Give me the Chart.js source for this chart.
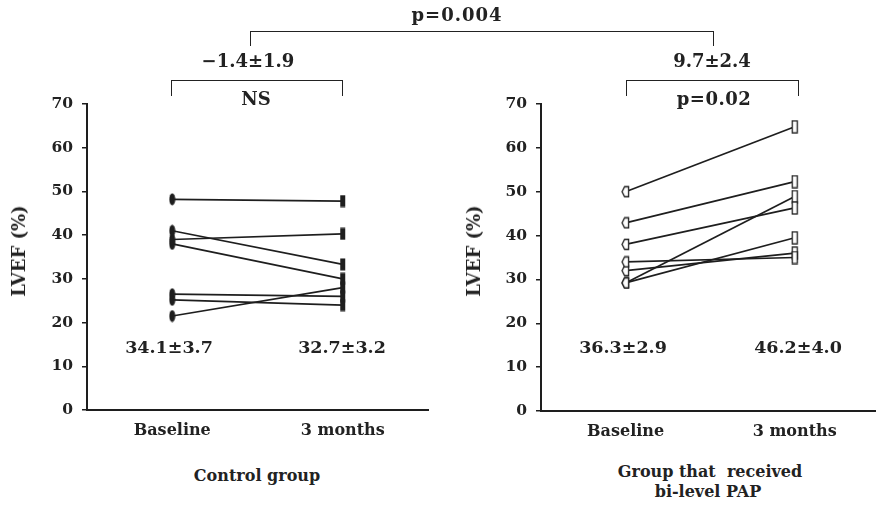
<!DOCTYPE html>
<html>
<head>
<meta charset="utf-8">
<script src="https://cdn.jsdelivr.net/npm/chart.js@4/dist/chart.umd.min.js"></script>
<style>
  html, body { margin: 0; padding: 0; background: #fff; width: 876px; height: 511px; overflow: hidden; }
  body { position: relative; font-family: "DejaVu Serif", serif; font-weight: bold; color: #222; }
  canvas { position: absolute; }
  .t { position: absolute; white-space: nowrap; transform: translate(-50%, -50%); line-height: 1; }
  .n { font-size: 17.5px; }
  .a { font-size: 18px; }
  .w { font-size: 16px; }
  .rot { transform: translate(-50%, -50%) rotate(-90deg); font-size: 18px; }
  .br { position: absolute; border: 1.5px solid #222; border-bottom: none; box-sizing: border-box; }
</style>
</head>
<body>
<div style="position:absolute;left:0;top:0;width:440px;height:460px;"><canvas id="c1"></canvas></div>
<div style="position:absolute;left:454px;top:0;width:431px;height:460px;"><canvas id="c2"></canvas></div>

<div class="t a" style="left:457px;top:15px;letter-spacing:1px;">p=0.004</div>
<div class="br" style="left:250px;top:31px;width:464px;height:15px;"></div>
<div class="t a" style="left:248px;top:61px;">−1.4±1.9</div>
<div class="t a" style="left:712px;top:61px;">9.7±2.4</div>
<div class="br" style="left:171px;top:80px;width:172px;height:16px;"></div>
<div class="br" style="left:626px;top:80px;width:173px;height:16px;"></div>
<div class="t a" style="left:256px;top:99px;">NS</div>
<div class="t a" style="left:714px;top:99px;letter-spacing:0.5px;">p=0.02</div>

<div class="t rot" style="left:19px;top:251px;">LVEF (%)</div>
<div class="t rot" style="left:474px;top:251px;">LVEF (%)</div>

<div class="t n" style="left:169px;top:348px;">34.1±3.7</div>
<div class="t n" style="left:342px;top:348px;">32.7±3.2</div>
<div class="t n" style="left:623px;top:348px;">36.3±2.9</div>
<div class="t n" style="left:798px;top:348px;">46.2±4.0</div>

<div class="t w" style="left:257px;top:476px;">Control group</div>
<div class="t w" style="left:710px;top:472px;">Group that&nbsp; received</div>
<div class="t w" style="left:708px;top:492px;">bi-level PAP</div>

<script>
// ---- data ----
const timepoints = ["Baseline", "3 months"];
const yTicks = [0, 10, 20, 30, 40, 50, 60, 70];
const controlBaseline = [48.2, 41.0, 39.0, 38.0, 26.5, 25.2, 21.5];
const control3Months  = [47.8, 33.3, 40.3, 30.0, 26.0, 24.0, 28.0];
const papBaseline     = [50.0, 42.9, 38.0, 29.2, 29.2, 34.0, 32.0];
const pap3Months      = [64.8, 52.3, 46.3, 48.9, 39.5, 35.0, 36.0];

// ---- markers ----
function mk(w, h, draw) {
  const c = document.createElement('canvas');
  c.width = w; c.height = h;
  draw(c.getContext('2d'));
  return c;
}
const ink = '#1e1e1e';
const filledEllipse = mk(7, 13, g => { g.fillStyle = ink; g.beginPath(); g.ellipse(3.5, 6.5, 3, 6, 0, 0, Math.PI * 2); g.fill(); });
const filledRect = mk(7, 13, g => { g.fillStyle = ink; g.fillRect(1, 0.5, 5, 12); });
const openPent = mk(9, 13, g => {
  g.fillStyle = '#fff'; g.strokeStyle = ink; g.lineWidth = 1.3;
  g.beginPath(); g.moveTo(1, 6.5); g.lineTo(3.5, 1.5); g.lineTo(7.5, 1.5); g.lineTo(7.5, 11.5); g.lineTo(3.5, 11.5); g.closePath();
  g.fill(); g.stroke();
});
const openRect = mk(8, 14, g => {
  g.fillStyle = '#fff'; g.strokeStyle = ink; g.lineWidth = 1.3;
  g.fillRect(1.5, 1, 5, 12); g.strokeRect(1.5, 1, 5, 12);
});

function datasets(base, after, styles) {
  return base.map((b, i) => ({
    data: [b, after[i]],
    borderColor: ink,
    borderWidth: 1.7,
    pointStyle: styles,
    pointRadius: 4,
    pointHoverRadius: 4,
    tension: 0,
    fill: false,
  }));
}

function options() {
  return {
    responsive: true,
    maintainAspectRatio: false,
    animation: false,
    events: [],
    layout: { padding: { top: 104, right: 0, left: 0, bottom: 0 } },
    plugins: { legend: { display: false }, tooltip: { enabled: false } },
    scales: {
      x: {
        type: 'category',
        offset: true,
        grid: { display: false, drawTicks: false },
        border: { display: true, color: ink, width: 2 },
        ticks: { color: '#222', padding: 11, font: { family: 'DejaVu Serif', weight: 'bold', size: 16 } },
        afterFit: s => { s.height = 50; }
      },
      y: {
        min: 0, max: 70,
        afterBuildTicks: s => { s.ticks = yTicks.map(v => ({ value: v })); },
        grid: { display: true, drawOnChartArea: false, drawTicks: true, tickLength: 5, color: ink, lineWidth: 1.5 },
        border: { display: true, color: ink, width: 2 },
        ticks: { color: '#222', padding: 9, font: { family: 'DejaVu Serif', weight: 'bold', size: 15.5 } },
        afterFit: s => { s.width = 87; }
      }
    }
  };
}

const o1 = options();
o1.layout.padding.right = 12;
new Chart(document.getElementById('c1'), {
  type: 'line',
  data: { labels: timepoints, datasets: datasets(controlBaseline, control3Months, [filledEllipse, filledRect]) },
  options: o1
});
const o2 = options();
o2.scales.x.afterFit = s => { s.height = 49; };
new Chart(document.getElementById('c2'), {
  type: 'line',
  data: { labels: timepoints, datasets: datasets(papBaseline, pap3Months, [openPent, openRect]) },
  options: o2
});
</script>
</body>
</html>
